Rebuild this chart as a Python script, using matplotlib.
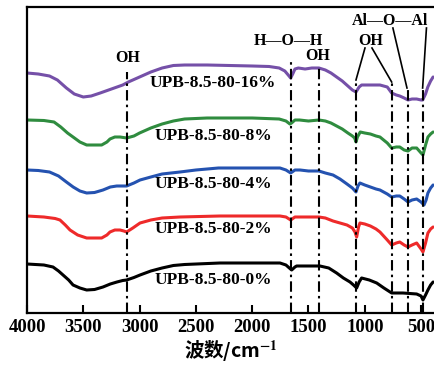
from matplotlib import pyplot as plt

plt.rcParams['mathtext.fontset'] = 'stix'

# Datos (numero de onda, intensidad en unidades arbitrarias)
wn_16 = [4000, 3900, 3800, 3730, 3650, 3580, 3500, 3430, 3350, 3250, 3150, 3100, 3000, 2900,
         2800, 2700, 2600, 2400, 2200, 2000, 1850, 1760, 1710, 1680, 1658, 1640, 1620, 1590,
         1530, 1470, 1407, 1350, 1300, 1250, 1200, 1150, 1110, 1078, 1050, 1028, 950, 865,
         800, 761, 720, 689, 650, 616, 580, 539, 500, 486, 460, 440, 415, 393]
t_16 = [240, 239, 237, 233, 225, 219, 216, 217, 220, 224, 228, 231, 236, 241,
        245, 247.5, 248, 248, 247.5, 247, 246.5, 245, 242, 238, 235, 239, 244, 245,
        244, 245, 245, 243, 240, 236, 232, 227, 223, 221, 226, 228, 228, 228,
        226, 220, 218, 217, 215, 213, 214, 214, 213, 213, 219, 226, 232, 236]

wn_8 = [4000, 3850, 3760, 3700, 3640, 3591, 3530, 3470, 3400, 3337, 3290, 3263, 3220, 3174,
        3115, 3050, 3000, 2900, 2800, 2700, 2600, 2400, 2000, 1760, 1700, 1665, 1650, 1620,
        1580, 1500, 1407, 1350, 1300, 1250, 1200, 1150, 1110, 1090, 1078, 1065, 1040, 1000,
        950, 900, 865, 800, 761, 720, 689, 650, 616, 580, 539, 500, 483, 460, 439, 415, 393]
t_8 = [193, 192.5, 191, 186, 180, 176, 171, 168, 168, 168, 171, 174, 176, 176,
       175, 177, 180, 185, 189, 192, 194, 195, 195, 194, 192, 189, 190, 193,
       193, 192, 193, 192, 190, 187, 184, 180, 177, 175, 171, 176, 181, 180,
       179, 177, 176, 170, 165, 166, 166, 163, 162, 165, 165, 160, 158, 168, 176, 179, 181]

wn_4 = [4000, 3900, 3800, 3720, 3650, 3590, 3530, 3470, 3400, 3325, 3260, 3203, 3115, 3050,
        2996, 2900, 2800, 2641, 2500, 2300, 2000, 1753, 1700, 1658, 1620, 1575, 1500, 1407,
        1350, 1282, 1220, 1158, 1110, 1078, 1060, 1043, 1000, 950, 900, 865, 800, 761,
        720, 689, 650, 616, 580, 539, 500, 474, 455, 439, 415, 393]
t_4 = [143, 142.5, 141, 137, 131, 126, 122, 120, 120.5, 123, 126, 127, 127, 130,
       133, 136, 139, 141, 143, 145, 145, 145, 143, 140, 143, 143, 142, 142,
       140, 138, 134, 129, 125, 121, 127, 130, 128, 126, 124, 123, 119, 116,
       117, 117, 114, 111, 113, 114, 111, 108, 113, 120, 125, 128]

wn_2 = [4000, 3850, 3750, 3707, 3660, 3618, 3550, 3470, 3400, 3337, 3290, 3263, 3220, 3174,
        3140, 3115, 3060, 2996, 2900, 2800, 2641, 2286, 2000, 1753, 1700, 1658, 1620, 1575,
        1407, 1350, 1282, 1220, 1158, 1110, 1087, 1072, 1055, 1043, 1000, 950, 900, 865,
        800, 761, 720, 689, 650, 616, 580, 539, 500, 483, 460, 439, 415, 393]
t_2 = [97, 96, 94.5, 93, 88, 83, 78, 75, 75, 75, 78, 81, 83, 83,
       82, 81, 85, 90, 93, 95, 96, 97, 97, 97, 96, 93, 96, 96,
       96, 95, 92, 90, 88, 85, 81, 76, 86, 90, 89, 87, 84, 81,
       73, 68, 70, 71, 68, 66, 68, 70, 64, 61, 70, 80, 84, 86]

wn_0 = [4000, 3850, 3769, 3720, 3680, 3630, 3591, 3530, 3470, 3400, 3325, 3260, 3201, 3150,
        3115, 3050, 2996, 2900, 2800, 2700, 2600, 2286, 2000, 1753, 1700, 1670, 1649, 1620,
        1605, 1500, 1398, 1320, 1250, 1190, 1131, 1100, 1072, 1050, 1028, 960, 894, 830,
        761, 700, 661, 600, 539, 500, 483, 460, 439, 415, 393]
t_0 = [49, 48, 46, 42, 38, 33, 28, 25, 23, 23.5, 26, 29, 31, 32.5,
       33, 35.5, 38, 42, 45, 47.5, 48.5, 50, 50, 50, 48, 45, 43, 46,
       47, 47, 47, 45, 40, 35, 31, 28, 25, 31, 35, 33, 30, 25,
       20, 20, 20, 19.5, 19, 17, 13, 18, 23, 28, 31]

muestras = ['UPB-8.5-80-16%', 'UPB-8.5-80-8%', 'UPB-8.5-80-4%', 'UPB-8.5-80-2%', 'UPB-8.5-80-0%']
colores = ['#7550a8', '#2f8c3f', '#2452b0', '#ee2a2a', '#000000']
y_etiquetas = [230, 177, 129, 84, 33]

# Lineas verticales de las bandas (posicion, altura donde empieza)
bandas = [3110, 1655, 1405, 1080, 760, 620, 485]
alto_bandas = [241, 253, 246, 233, 231, 225, 225]

fig = plt.figure(figsize=(4.34, 3.67), dpi=100)
ax = fig.add_axes([27/434, 54/367, 407/434, 306/367])

series = [(wn_16, t_16), (wn_8, t_8), (wn_4, t_4), (wn_2, t_2), (wn_0, t_0)]
for (wn, t), c in zip(series, colores):
    ax.plot(wn, t, color=c, lw=2.2, solid_joinstyle='round', solid_capstyle='round')

for b, h in zip(bandas, alto_bandas):
    ax.plot([b, b], [0, h], color='black', lw=1.5, linestyle=(0, (5, 2, 1.2, 2)))

fuente = dict(family='Liberation Serif', weight='bold', fontsize=12.5, ha='center', va='center')
for nombre, y in zip(muestras, y_etiquetas):
    ax.text(2348, y, nombre, **fuente)

anot = dict(family='Liberation Serif', weight='bold', fontsize=11.5, ha='center', va='center')
ax.text(3103, 255, 'OH', **anot)
ax.text(1682, 272, 'H—O—H', **anot)
ax.text(1416, 257, 'OH', **anot)
ax.text(945, 272, 'OH', **anot)
ax.text(775, 292, 'Al—O—Al', **anot)

# Lineas de anotacion
ax.plot([998, 1078], [265, 233], color='black', lw=1.2)
ax.plot([936, 761], [265, 231], color='black', lw=1.2)
ax.plot([750, 625], [285, 225], color='black', lw=1.2)
ax.plot([452, 486], [285, 225], color='black', lw=1.2)

ax.set_xlim(4000, 385)
ax.set_ylim(0, 306)
ax.set_yticks([])
ax.set_xticks([4000, 3500, 3000, 2500, 2000, 1500, 1000, 500])
ax.tick_params(axis='x', direction='in', length=6, width=1.5, pad=4)
for lab in ax.get_xticklabels():
    lab.set_family('Liberation Serif')
    lab.set_weight('bold')
    lab.set_fontsize(13.5)
for s in ['left', 'bottom', 'top']:
    ax.spines[s].set_linewidth(1.6)
ax.spines['right'].set_visible(False)

ax.set_xlabel('波数/cm$^{\\mathbf{-1}}$', family=['Noto Sans CJK SC', 'DejaVu Sans'],
              fontsize=14, fontweight='bold', labelpad=2)

plt.savefig('out.png', dpi=100)
